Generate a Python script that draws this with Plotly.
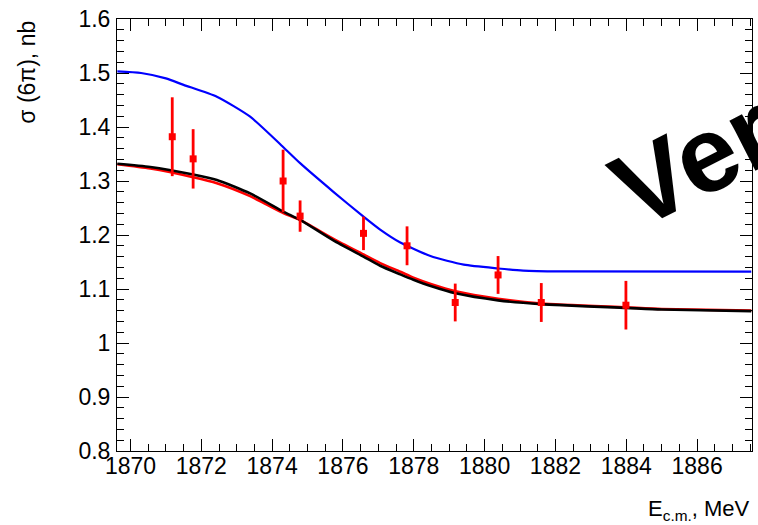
import plotly.graph_objects as go

# ---- data ----
pt_x = [1871.18, 1871.77, 1874.31, 1874.79, 1876.58, 1877.81, 1879.17, 1880.38, 1881.60, 1883.99]
pt_y = [1.382, 1.341, 1.300, 1.235, 1.203, 1.180, 1.075, 1.126, 1.075, 1.070]
pt_err = [0.073, 0.055, 0.058, 0.029, 0.031, 0.036, 0.035, 0.035, 0.036, 0.045]

blue_x = [1869.63, 1870.30, 1871.00, 1871.50, 1872.44, 1873.38, 1874.31, 1874.79, 1875.73,
          1876.58, 1877.05, 1877.62, 1878.47, 1879.41, 1880.38, 1881.09, 1882.13, 1887.53]
blue_y = [1.503, 1.500, 1.490, 1.478, 1.456, 1.419, 1.363, 1.333, 1.280,
          1.234, 1.210, 1.186, 1.161, 1.145, 1.138, 1.134, 1.1325, 1.132]

fit_x = [1869.63, 1870.56, 1871.77, 1872.44, 1873.38, 1874.33, 1874.79, 1875.73, 1876.58,
         1877.05, 1877.62, 1877.99, 1878.50, 1879.18, 1880.38, 1881.60, 1884.00, 1885.00, 1887.53]
black_y = [1.332, 1.326, 1.312, 1.302, 1.277, 1.243, 1.228, 1.190, 1.160,
           1.143, 1.127, 1.117, 1.105, 1.092, 1.079, 1.072, 1.065, 1.062, 1.059]
red_y = [1.331, 1.323, 1.307, 1.296, 1.272, 1.240, 1.228, 1.193, 1.164,
         1.148, 1.132, 1.121, 1.109, 1.096, 1.082, 1.073, 1.066, 1.063, 1.060]

FONT = "Liberation Sans, Arial, Helvetica, sans-serif"

fig = go.Figure()
fig.add_trace(go.Scatter(x=blue_x, y=blue_y, mode="lines",
                         line=dict(color="#0000ff", width=2.2, shape="spline", smoothing=0.6),
                         showlegend=False, hoverinfo="skip"))
fig.add_trace(go.Scatter(x=fit_x, y=red_y, mode="lines",
                         line=dict(color="#ff0000", width=2.6, shape="spline", smoothing=0.6),
                         showlegend=False, hoverinfo="skip"))
fig.add_trace(go.Scatter(x=fit_x, y=black_y, mode="lines",
                         line=dict(color="#000000", width=2.6, shape="spline", smoothing=0.6),
                         showlegend=False, hoverinfo="skip"))
fig.add_trace(go.Scatter(x=pt_x, y=pt_y, mode="markers",
                         marker=dict(symbol="square", size=7, color="#ff0000"),
                         error_y=dict(type="data", array=pt_err, color="#ff0000", thickness=2.8, width=0),
                         showlegend=False))

axis_common = dict(showline=True, linecolor="black", linewidth=1, mirror="ticks",
                   ticks="inside", ticklen=12, tickcolor="black", tickwidth=1,
                   showgrid=False, zeroline=False,
                   tickfont=dict(family=FONT, size=23, color="black"))

fig.update_xaxes(range=[1869.62, 1887.55], tick0=1870, dtick=2, ticklabelstandoff=-6,
                 minor=dict(ticks="inside", ticklen=7, dtick=0.5, tick0=1870, tickcolor="black", showgrid=False),
                 **axis_common)
fig.update_yaxes(range=[0.8, 1.6], tick0=0.8, dtick=0.1, ticklabelstandoff=1,
                 minor=dict(ticks="inside", ticklen=7, dtick=0.02, tick0=0.8, tickcolor="black", showgrid=False),
                 **axis_common)

fig.update_layout(
    width=758, height=525,
    margin=dict(l=117, r=6, t=19, b=74),
    paper_bgcolor="white", plot_bgcolor="white",
    annotations=[
        dict(text="σ (6π), nb", textangle=-90, xref="paper", yref="paper",
             x=-0.143, y=1.0, xanchor="center", yanchor="top", showarrow=False,
             font=dict(family=FONT, size=23, color="black")),
        dict(text="E<sub>c.m.</sub>, MeV", xref="paper", yref="paper",
             x=1.0, y=-0.137, xanchor="right", yanchor="middle", showarrow=False,
             font=dict(family=FONT, size=22, color="black")),
        dict(text="<b>Very preliminary</b>", textangle=-27, xref="paper", yref="paper",
             x=1.377, y=1.024, xanchor="center", yanchor="middle", showarrow=False,
             font=dict(family=FONT, size=107, color="black")),
    ],
)

fig.write_html("out.html")
